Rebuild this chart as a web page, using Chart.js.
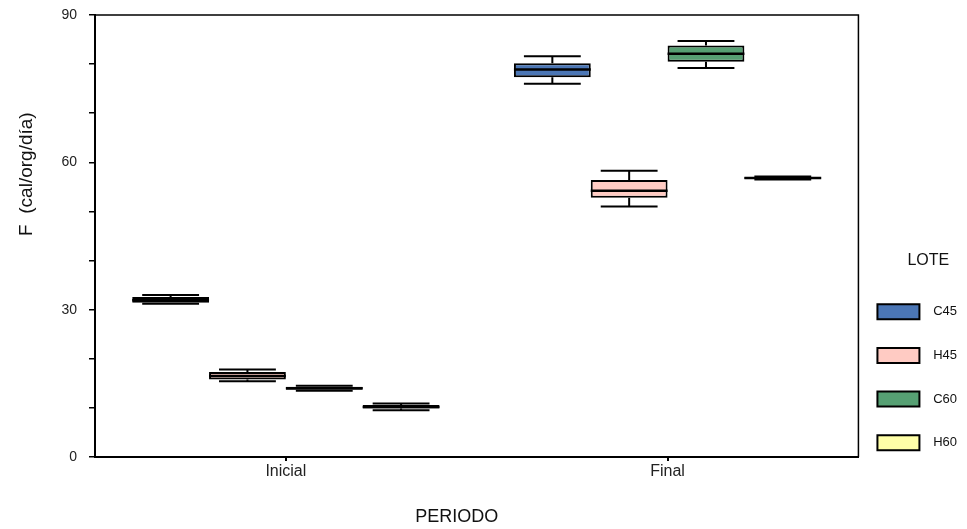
<!DOCTYPE html>
<html lang="es">
  <head>
    <meta charset="UTF-8" />
    <title>F por periodo y lote</title>
    <style>
      body { margin: 0; background: #fff; }
      .wrap { position: relative; width: 967px; height: 529px; }
    </style>
  </head>
  <body>
    <div class="wrap">
      <canvas id="chart-1"></canvas>
    </div>
    <script src="https://cdn.jsdelivr.net/npm/chart.js"></script>
    <script>
      // periodos (eje X) y lotes (series)
      const periodos = ["Inicial", "Final"];
      const lotes = ["C45", "H45", "C60", "H60"];
      const colores = ["#4b76b5", "#ffcbc3", "#56a073", "#ffffa8"];

      // valores por lote: [Inicial, Final]
      const minimos = [[31.2, 76.0], [15.4, 51.0], [13.5, 79.2], [9.5, 56.5]];
      const cuartil1 = [[31.4, 77.3], [15.8, 52.8], [13.7, 80.5], [9.9, 56.6]];
      const medianas = [[31.9, 78.9], [16.5, 54.2], [14.0, 82.1], [10.2, 56.8]];
      const cuartil3 = [[32.6, 80.2], [17.3, 56.4], [14.3, 83.8], [10.6, 57.0]];
      const maximos = [[33.0, 81.6], [17.8, 58.3], [14.5, 84.7], [10.9, 57.1]];

      const yTicks = [0, 30, 60, 90];

      const fuente = 'Arial, "Liberation Sans", sans-serif';
      const tituloY = "F  (cal/org/día)";

      // bigotes y mediana sobre las barras flotantes
      const boxPlugin = {
        id: "boxWhiskers",
        afterDatasetsDraw(chart) {
          const ctx = chart.ctx;
          const y = chart.scales.y;
          ctx.save();
          ctx.strokeStyle = "#000";
          chart.data.datasets.forEach((ds, i) => {
            const meta = chart.getDatasetMeta(i);
            meta.data.forEach((bar, j) => {
              const half = bar.width / 2;
              const cap = bar.width * 0.37;
              const yMin = y.getPixelForValue(minimos[i][j]);
              const yMax = y.getPixelForValue(maximos[i][j]);
              const yQ1 = y.getPixelForValue(cuartil1[i][j]);
              const yQ3 = y.getPixelForValue(cuartil3[i][j]);
              const yMed = y.getPixelForValue(medianas[i][j]);
              ctx.lineWidth = 2;
              ctx.beginPath();
              ctx.moveTo(bar.x, yQ3);
              ctx.lineTo(bar.x, yMax);
              ctx.moveTo(bar.x - cap, yMax);
              ctx.lineTo(bar.x + cap, yMax);
              ctx.moveTo(bar.x, yQ1);
              ctx.lineTo(bar.x, yMin);
              ctx.moveTo(bar.x - cap, yMin);
              ctx.lineTo(bar.x + cap, yMin);
              ctx.stroke();
              ctx.lineWidth = 2.5;
              ctx.beginPath();
              ctx.moveTo(bar.x - half, yMed);
              ctx.lineTo(bar.x + half, yMed);
              ctx.stroke();
            });
          });
          ctx.restore();
        },
        afterDraw(chart) {
          const a = chart.chartArea;
          const ctx = chart.ctx;
          ctx.save();
          ctx.strokeStyle = "#000";
          ctx.lineWidth = 1.5;
          ctx.beginPath();
          ctx.moveTo(a.left, a.top);
          ctx.lineTo(a.right, a.top);
          ctx.lineTo(a.right, a.bottom);
          ctx.stroke();

          // titulo del eje Y, algo por encima del centro como en el original
          ctx.fillStyle = "#111";
          ctx.font = "19px " + fuente;
          ctx.textAlign = "center";
          ctx.textBaseline = "middle";
          ctx.translate(27, a.top + (a.bottom - a.top) * 0.36);
          ctx.rotate(-Math.PI / 2);
          ctx.fillText(tituloY, 0, 0);
          ctx.restore();
        }
      };

      const ctx_1 = document.getElementById("chart-1");

      new Chart(ctx_1, {
        type: "bar",
        data: {
          labels: periodos,
          datasets: lotes.map((lote, i) => ({
            label: lote,
            data: periodos.map((p, j) => [cuartil1[i][j], cuartil3[i][j]]),
            backgroundColor: colores[i],
            borderColor: "#000",
            borderWidth: 2,
            borderSkipped: false,
            categoryPercentage: 0.805,
            barPercentage: 1.0
          }))
        },
        options: {
          responsive: true,
          maintainAspectRatio: false,
          animation: false,
          layout: { padding: { top: 0, right: 0, bottom: 0, left: 0 } },
          plugins: {
            tooltip: { enabled: false },
            legend: {
              position: "right",
              align: "start",
              title: {
                display: true,
                text: "LOTE    ",
                position: "end",
                color: "#111",
                font: { family: fuente, size: 16 },
                padding: { top: 253, bottom: 13 }
              },
              labels: {
                boxWidth: 42,
                boxHeight: 15,
                padding: 19,
                color: "#111",
                font: { family: fuente, size: 13, lineHeight: 1.9 },
                generateLabels(chart) {
                  return chart.data.datasets.map((ds, i) => ({
                    text: ["  " + ds.label],
                    fillStyle: ds.backgroundColor,
                    strokeStyle: "#000",
                    lineWidth: 2,
                    hidden: false,
                    datasetIndex: i
                  }));
                }
              }
            }
          },
          scales: {
            x: {
              offset: true,
              afterFit(scale) { scale.height = 72; },
              border: { color: "#000", width: 2 },
              grid: { drawOnChartArea: false, drawTicks: true, tickLength: 4, offset: false, color: "#000", lineWidth: 2 },
              ticks: { color: "#222", padding: 1, font: { family: fuente, size: 16 } },
              title: {
                display: true,
                text: "PERIODO        ",
                color: "#111",
                font: { family: fuente, size: 18 },
                padding: { top: 0, bottom: 1 }
              }
            },
            y: {
              min: 0,
              max: 90,
              afterFit(scale) {
                scale.width = 95;
                scale.paddingTop = 15;
                scale.paddingBottom = 0;
              },
              border: { color: "#000", width: 2 },
              grid: { drawOnChartArea: false, drawTicks: true, tickLength: 6, color: "#000", lineWidth: 1.5 },
              ticks: {
                stepSize: 10,
                padding: 12,
                color: "#222",
                font: { family: fuente, size: 14 },
                callback: (v) => (yTicks.includes(v) ? v : "")
              },
              title: { display: false }
            }
          }
        },
        plugins: [boxPlugin]
      });
    </script>
  </body>
</html>
